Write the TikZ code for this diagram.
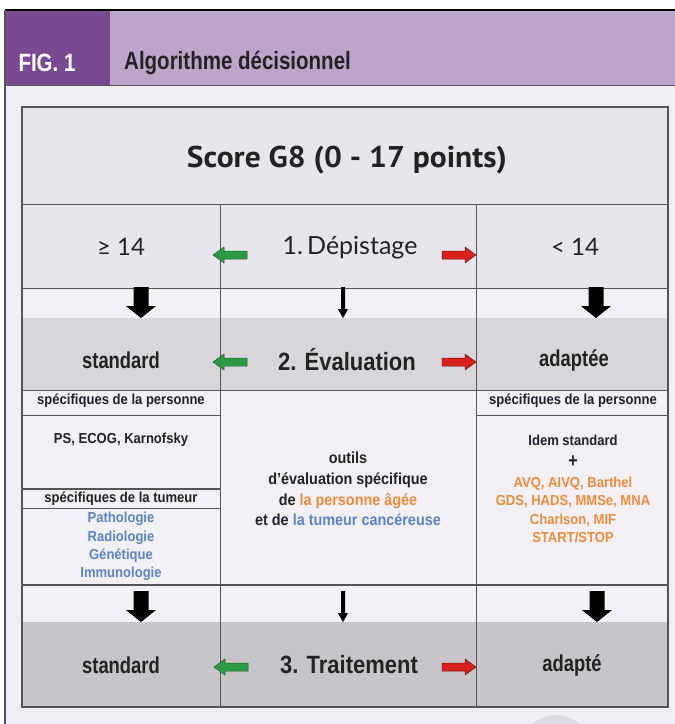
\documentclass[tikz,border=0pt]{standalone}
\usepackage{fontspec}
\setmainfont{Liberation Sans}
\newfontfamily\hdf[FakeStretch=0.82]{Liberation Sans}
\newfontfamily\midf[FakeStretch=0.8]{Liberation Sans}
\newfontfamily\bigf[FakeStretch=0.88]{Liberation Sans}
\newfontfamily\smf[FakeStretch=0.9]{Liberation Sans}
\newfontfamily\latof{Lato}
\newfontfamily\scoref[FakeStretch=1.05]{PT Sans}
\definecolor{hdark}{HTML}{7A4A90}
\definecolor{hlight}{HTML}{BDA4CB}
\definecolor{panel}{HTML}{F1EFF5}
\definecolor{cellA}{HTML}{E8E6EC}
\definecolor{cellW}{HTML}{F3F1F6}
\definecolor{cellB}{HTML}{D8D6DA}
\definecolor{cellC}{HTML}{C7C5C9}
\definecolor{gridc}{HTML}{555555}
\definecolor{txt}{HTML}{222222}
\definecolor{orng}{HTML}{EE8C3C}
\definecolor{blu}{HTML}{5A84C8}
\definecolor{garr}{HTML}{2E9944}
\definecolor{garrd}{HTML}{1F5E2C}
\definecolor{rarr}{HTML}{D8201C}
\definecolor{rarrd}{HTML}{7A1010}
\definecolor{wmark}{HTML}{DDDBE1}
\tikzset{
  every node/.style={inner sep=0pt, text=txt},
  hdtxt/.style={font=\fontsize{25}{27}\selectfont\hdf\bfseries},
  scoretxt/.style={font=\fontsize{30}{32}\selectfont\scoref\bfseries},
  latotxt/.style={font=\fontsize{25}{27}\selectfont\latof},
  cmptxt/.style={font=\fontsize{24}{26}\selectfont\latof},
  bigtxt/.style={font=\fontsize{25}{28}\selectfont\bigf\bfseries},
  midtxt/.style={font=\fontsize{23}{25}\selectfont\midf\bfseries},
  smalltxt/.style={font=\fontsize{14.5}{16}\selectfont\smf\bfseries},
  listtxt/.style={align=center, font=\fontsize{14.5}{18.3}\selectfont\smf\bfseries},
  midlist/.style={align=center, font=\fontsize{16}{20.7}\selectfont\smf\bfseries},
  grid/.style={draw=gridc, line width=0.9pt},
  garrow/.pic={\filldraw[fill=garr, draw=garrd, line width=0.5pt]
     (0,0) -- (11,-8) -- (11,-4) -- (34,-4) -- (34,4) -- (11,4) -- (11,8) -- cycle;},
  rarrow/.pic={\filldraw[fill=rarr, draw=rarrd, line width=0.5pt]
     (0,0) -- (-11,-8) -- (-11,-4) -- (-34,-4) -- (-34,4) -- (-11,4) -- (-11,8) -- cycle;},
  bigdown/.pic={\fill[black]
     (0,0) -- (-15,-12) -- (-7.5,-12) -- (-7.5,-31) -- (7.5,-31) -- (7.5,-12) -- (15,-12) -- cycle;},
  thindown/.pic={\fill[black]
     (0,0) -- (-5,-9) -- (-2,-9) -- (-2,-31) -- (2,-31) -- (2,-9) -- (5,-9) -- cycle;},
}
\begin{document}
\begin{tikzpicture}[x=1pt,y=-1pt]
\useasboundingbox (0,0) rectangle (675,724);
\clip (0,0) rectangle (675,724);
\fill[white] (0,0) rectangle (675,724);
% header
\fill[hdark] (5,10) rectangle (110,85);
\fill[hlight] (110,10) rectangle (675,85);
\fill[panel] (5,85) rectangle (675,724);
\draw[black, line width=1.6pt] (5,10) -- (675,10);
\draw[gridc, line width=0.8pt] (5,85) -- (675,85);
\draw[gridc, line width=1.2pt] (5,10) -- (5,724);
\node[hdtxt, text=white] (fig) at (47,63) {FIG. 1};
\node[hdtxt, anchor=west] (ttl) at (124,63) {Algorithme décisionnel};
% watermark circle
\fill[wmark] (556,750) circle (35);
% table cells
\fill[cellA] (22,107) rectangle (668,288);
\fill[cellW] (22,288) rectangle (668,318);
\fill[cellB] (22,318) rectangle (668,390);
\fill[cellW] (22,390) rectangle (668,585);
\fill[cellW] (22,585) rectangle (668,622);
\fill[cellC] (22,622) rectangle (668,707);
% grid
\draw[grid] (22,204) -- (668,204);
\draw[grid] (22,288) -- (668,288);
\draw[grid] (22,390) -- (668,390);
\draw[grid, line width=1.3pt] (22,585) -- (668,585);
\draw[grid] (220,204) -- (220,707);
\draw[grid] (476,204) -- (476,707);
\draw[grid] (22,415) -- (220,415);
\draw[grid, line width=1.3pt] (22,489) -- (220,489);
\draw[grid] (22,508) -- (220,508);
\draw[grid] (476,415) -- (668,415);
\draw[draw=gridc, line width=1.6pt] (22,107) rectangle (668,707);
% texts
\node[scoretxt] (score) at (347,160) {Score G8 (0 - 17 points)};
\node[cmptxt] (ge) at (121,247) {≥ 14};
\node[latotxt] (dep) at (350,248) {1.\,Dépistage};
\node[cmptxt] (lt) at (575,247) {< 14};
\node[midtxt] (std1) at (121,360) {standard};
\node[bigtxt] (eval) at (347,360) {2. Évaluation};
\node[midtxt] (adp1) at (574,360) {adaptée};
\node[smalltxt] (pers1) at (121,401) {spécifiques de la personne};
\node[smalltxt] (ps) at (121,440) {PS, ECOG, Karnofsky};
\node[smalltxt] (tum) at (121,499) {spécifiques de la tumeur};
\node[listtxt, text=blu] (tlist) at (121,546.5) {Pathologie\\Radiologie\\Génétique\\Immunologie};
\node[midlist] (outils) at (348,489) {outils\\d’évaluation spécifique\\de {\color{orng}la personne âgée}\\et de {\color{blu}la tumeur cancéreuse}};
\node[smalltxt] (pers2) at (573,401) {spécifiques de la personne};
\node[smalltxt] (idem) at (573,440) {Idem standard};
\node[font=\fontsize{20}{22}\selectfont\midf\bfseries] (plus) at (573,462) {+};
\node[listtxt, text=orng] (olist) at (573,510) {AVQ, AIVQ, Barthel\\GDS, HADS, MMSe, MNA\\Charlson, MIF\\START/STOP};
\node[midtxt] (std2) at (121,665) {standard};
\node[bigtxt] (trt) at (349,665) {3. Traitement};
\node[midtxt] (adp2) at (572,665) {adapté};
% horizontal block arrows
\pic at (213,255) {garrow};
\pic at (476,255) {rarrow};
\pic at (213,362) {garrow};
\pic at (476,362) {rarrow};
\pic at (214,667) {garrow};
\pic at (476,667) {rarrow};
% vertical arrows
\pic at (141,318) {bigdown};
\pic at (343,318) {thindown};
\pic at (596,318) {bigdown};
\pic at (141,622) {bigdown};
\pic at (343,622) {thindown};
\pic at (597,622) {bigdown};
\end{tikzpicture}
\end{document}
